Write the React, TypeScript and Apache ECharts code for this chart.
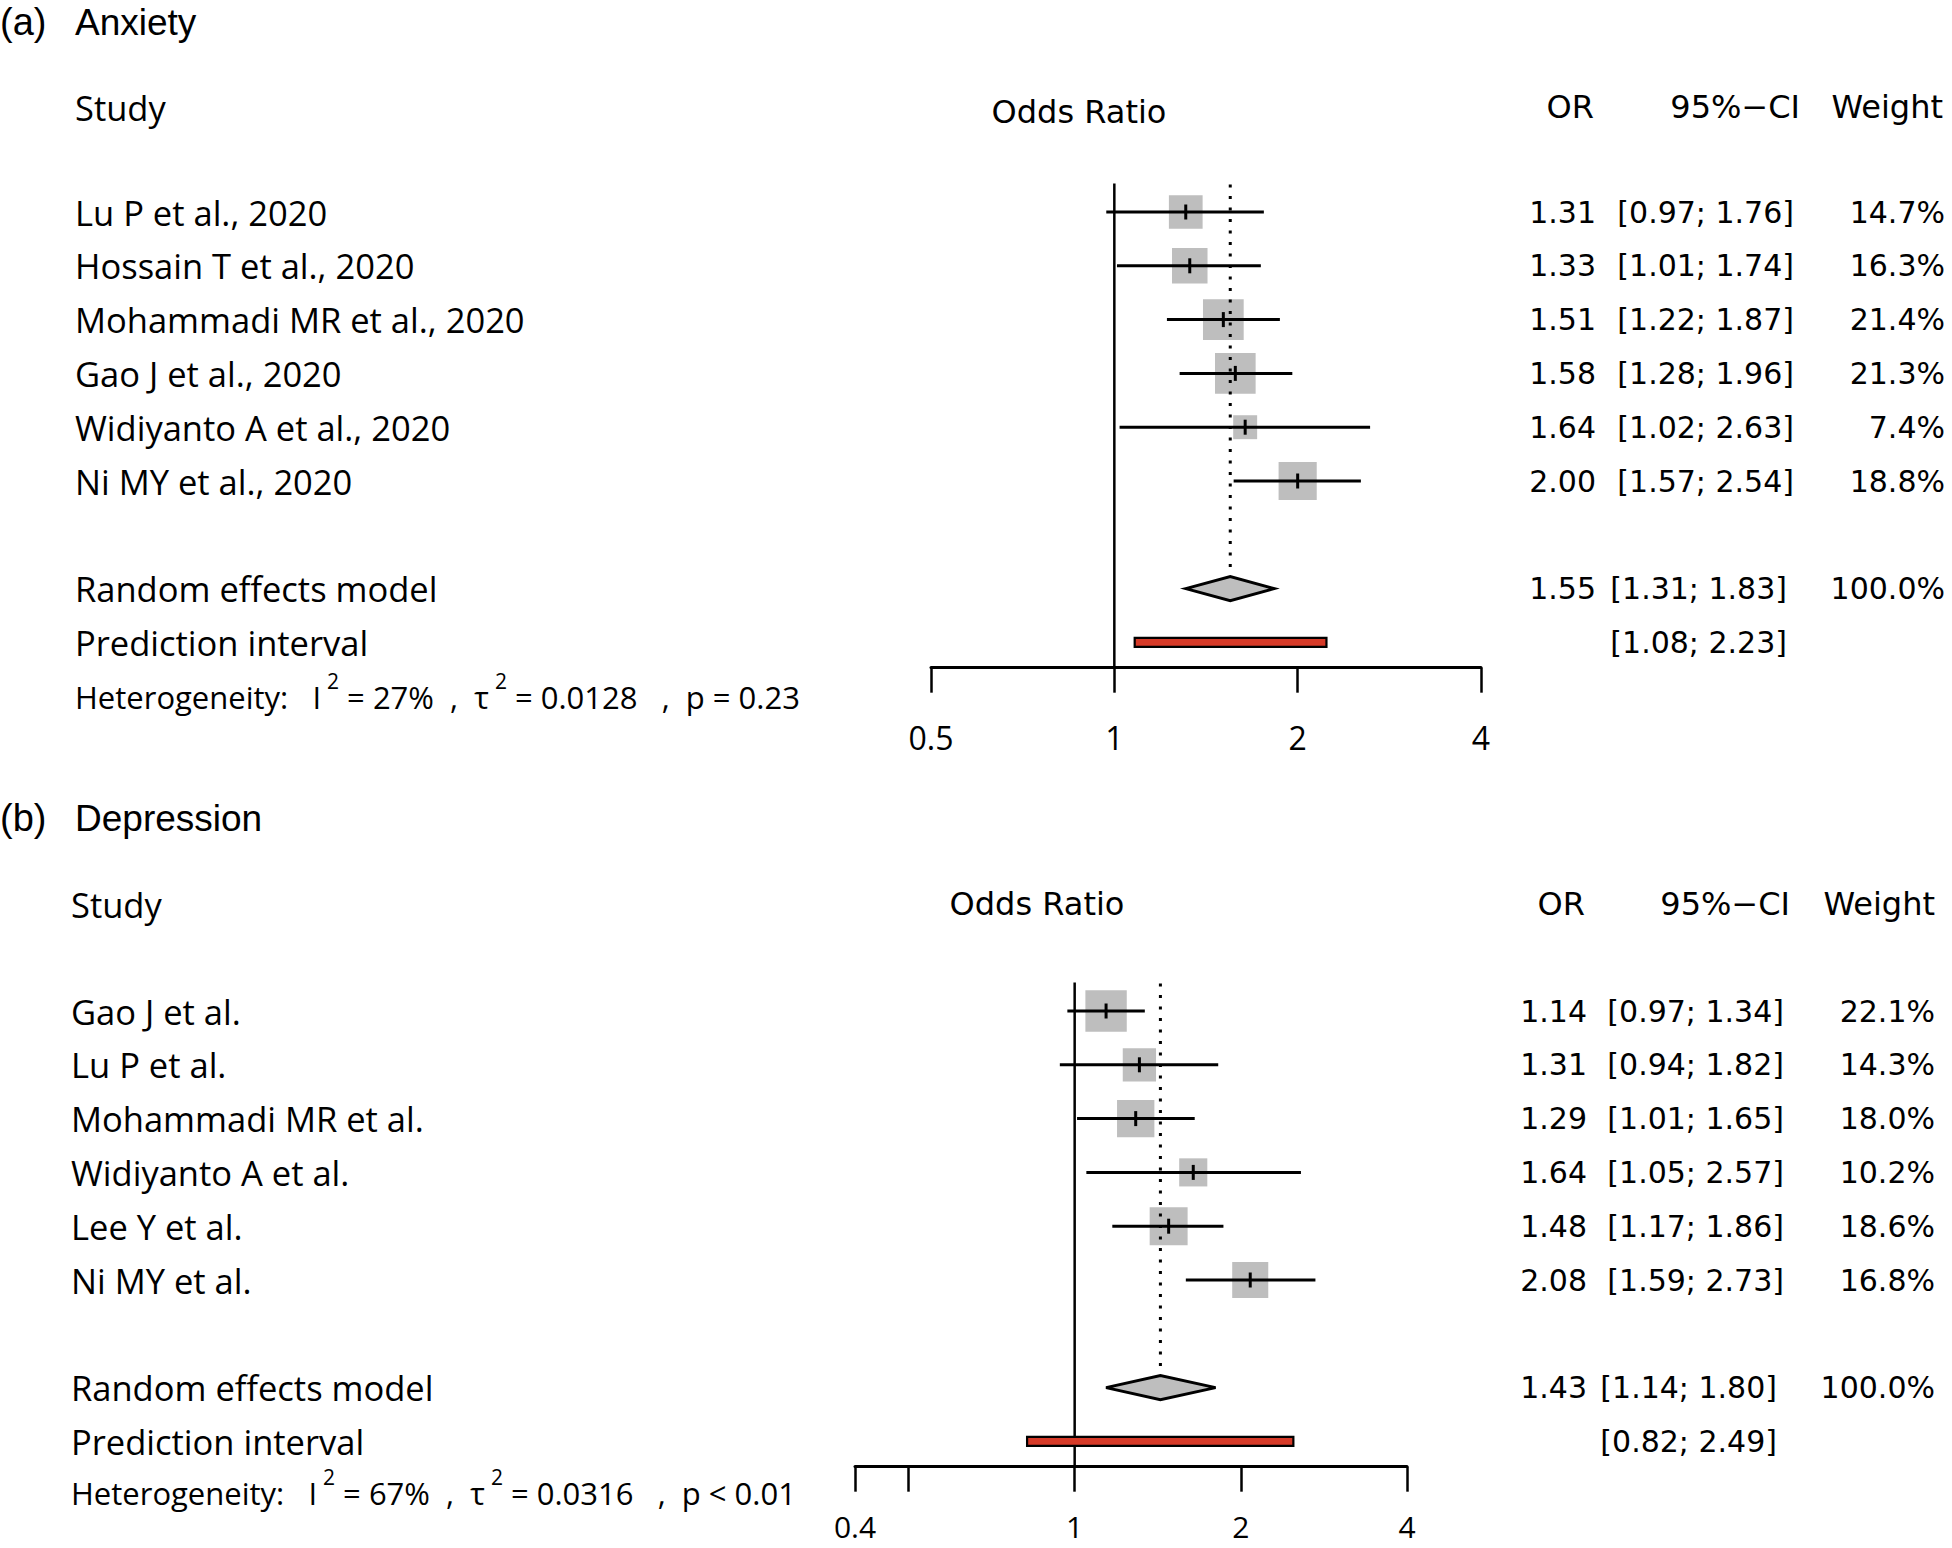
import React, { useEffect, useRef } from 'react';
import * as echarts from 'echarts';

// ---------- Data: (a) Anxiety ----------
const anxStudies = ['Lu P et al., 2020', 'Hossain T et al., 2020', 'Mohammadi MR et al., 2020', 'Gao J et al., 2020', 'Widiyanto A et al., 2020', 'Ni MY et al., 2020'];
const anxOR = [1.31, 1.33, 1.51, 1.58, 1.64, 2.0];
const anxLower = [0.97, 1.01, 1.22, 1.28, 1.02, 1.57];
const anxUpper = [1.76, 1.74, 1.87, 1.96, 2.63, 2.54];
const anxWeight = [14.7, 16.3, 21.4, 21.3, 7.4, 18.8];
const anxPooled = [1.55, 1.31, 1.83];
const anxPredict = [1.08, 2.23];
const anxHet = ['27%', '0.0128', 'p = 0.23'];
const anxAxisRange = [0.5, 4];

// ---------- Data: (b) Depression ----------
const depStudies = ['Gao J et al.', 'Lu P et al.', 'Mohammadi MR et al.', 'Widiyanto A et al.', 'Lee Y et al.', 'Ni MY et al.'];
const depOR = [1.14, 1.31, 1.29, 1.64, 1.48, 2.08];
const depLower = [0.97, 0.94, 1.01, 1.05, 1.17, 1.59];
const depUpper = [1.34, 1.82, 1.65, 2.57, 1.86, 2.73];
const depWeight = [22.1, 14.3, 18.0, 10.2, 18.6, 16.8];
const depPooled = [1.43, 1.14, 1.8];
const depPredict = [0.82, 2.49];
const depHet = ['67%', '0.0316', 'p < 0.01'];
const depAxisRange = [0.4, 4];
const depHiddenTickLabels = [0.5];

const FONT_LABEL = '"Open Sans", sans-serif';
const FONT_NUM = '"DejaVu Sans", sans-serif';
const FONT_TITLE = '"Liberation Sans", Arial, sans-serif';

const fmt2 = (v: number) => v.toFixed(2);
const fmtCI = (l: number, u: number) => `[${fmt2(l)}; ${fmt2(u)}]`;

type Panel = {
  studies: string[]; or: number[]; lower: number[]; upper: number[]; weight: number[];
  pooled: number[]; predict: number[]; het: string[]; range: number[]; hidden: number[];
  L: { left: number; width: number; top: number; labelX: number; orX: number; ciX: number; ciSumX: number; wX: number; hetDy: number; tickMargin: number; tickFont: number };
};

const ROW = 53.8;
const YMIN = 0.5;
const YMAX = 9.47;

const panels: Panel[] = [
  {
    studies: anxStudies, or: anxOR, lower: anxLower, upper: anxUpper, weight: anxWeight,
    pooled: anxPooled, predict: anxPredict, het: anxHet, range: anxAxisRange, hidden: [],
    L: { left: 931, width: 550, top: 185.1, labelX: 75, orX: 1596, ciX: 1794, ciSumX: 1787, wX: 1945, hetDy: -5, tickMargin: 54, tickFont: 32 },
  },
  {
    studies: depStudies, or: depOR, lower: depLower, upper: depUpper, weight: depWeight,
    pooled: depPooled, predict: depPredict, het: depHet, range: depAxisRange, hidden: depHiddenTickLabels,
    L: { left: 855, width: 552, top: 984.1, labelX: 71, orX: 1587, ciX: 1784, ciSumX: 1777, wX: 1935, hetDy: -8, tickMargin: 45, tickFont: 30 },
  },
];

function buildSeries(p: Panel, gi: number): any[] {
  const n = p.studies.length;
  const sumRow = n + 2;
  const predRow = n + 3;
  const hetRow = n + 4;

  const studySeries = {
    type: 'custom', xAxisIndex: gi, yAxisIndex: gi, clip: false, silent: true,
    data: p.or.map((v, i) => [p.lower[i], p.upper[i], v, i + 1]),
    encode: { x: [0, 1, 2], y: 3 },
    renderItem: (params: any, api: any) => {
      const i = params.dataIndex;
      const row = i + 1;
      const lo = api.coord([p.lower[i], row]);
      const hi = api.coord([p.upper[i], row]);
      const c = api.coord([p.or[i], row]);
      const s = 8.8 * Math.sqrt(p.weight[i]);
      return {
        type: 'group',
        children: [
          { type: 'rect', shape: { x: c[0] - s / 2, y: c[1] - s / 2, width: s, height: s }, style: { fill: '#BEBEBE' } },
          { type: 'line', shape: { x1: lo[0], y1: lo[1], x2: hi[0], y2: hi[1] }, style: { stroke: '#000', lineWidth: 3 } },
          { type: 'line', shape: { x1: c[0], y1: c[1] - 7.5, x2: c[0], y2: c[1] + 7.5 }, style: { stroke: '#000', lineWidth: 3 } },
        ],
      };
    },
  };

  const summarySeries = {
    type: 'custom', xAxisIndex: gi, yAxisIndex: gi, clip: false, silent: true,
    data: [[p.pooled[0], sumRow]],
    encode: { x: 0, y: 1 },
    renderItem: (_params: any, api: any) => {
      const top = api.coord([1, YMIN - 0.03]);
      const bottom = api.coord([1, YMAX]);
      const c = api.coord([p.pooled[0], sumRow]);
      const lo = api.coord([p.pooled[1], sumRow]);
      const hi = api.coord([p.pooled[2], sumRow]);
      const plo = api.coord([p.predict[0], predRow]);
      const phi = api.coord([p.predict[1], predRow]);
      const h = 12;
      return {
        type: 'group',
        children: [
          { type: 'line', shape: { x1: top[0], y1: top[1], x2: bottom[0], y2: bottom[1] }, style: { stroke: '#000', lineWidth: 2.5 } },
          { type: 'line', shape: { x1: c[0], y1: top[1] + 1, x2: c[0], y2: c[1] - h - 4 }, style: { stroke: '#000', lineWidth: 3, lineDash: [3, 8.5] } },
          {
            type: 'polygon',
            shape: { points: [[lo[0], c[1]], [c[0], c[1] - h], [hi[0], c[1]], [c[0], c[1] + h]] },
            style: { fill: '#BEBEBE', stroke: '#000', lineWidth: 3, lineJoin: 'miter' },
          },
          {
            type: 'rect', shape: { x: plo[0], y: plo[1] - 4.5, width: phi[0] - plo[0], height: 9 },
            style: { fill: '#D63A28', stroke: '#000', lineWidth: 2.2 },
          },
        ],
      };
    },
  };

  const entries: any[] = [];
  for (let i = 0; i < n; i++) {
    entries.push({ row: i + 1, label: p.studies[i], or: fmt2(p.or[i]), ci: fmtCI(p.lower[i], p.upper[i]), w: p.weight[i].toFixed(1) + '%', ciX: p.L.ciX });
  }
  entries.push({ row: sumRow, label: 'Random effects model', or: fmt2(p.pooled[0]), ci: fmtCI(p.pooled[1], p.pooled[2]), w: '100.0%', ciX: p.L.ciSumX });
  entries.push({ row: predRow, label: 'Prediction interval', or: '', ci: fmtCI(p.predict[0], p.predict[1]), w: '', ciX: p.L.ciSumX });
  entries.push({ row: hetRow, het: true });

  const textSeries = {
    type: 'custom', xAxisIndex: gi, yAxisIndex: gi, clip: false, silent: true,
    data: entries.map((e) => [1, e.row]),
    encode: { x: 0, y: 1 },
    renderItem: (params: any, api: any) => {
      const e = entries[params.dataIndex];
      const y = api.coord([1, e.row])[1];
      if (e.het) {
        return {
          type: 'text', x: p.L.labelX, y: y + p.L.hetDy,
          style: {
            text: `{n|Heterogeneity:   I}{s|2}{n| = ${p.het[0]}  ,  τ}{s|2}{n| = ${p.het[1]}   ,  ${p.het[2]}}`,
            align: 'left', verticalAlign: 'middle', fill: '#000',
            rich: {
              n: { fontSize: 31, fontFamily: FONT_LABEL, lineHeight: 42, verticalAlign: 'bottom', fill: '#000' },
              s: { fontSize: 21, fontFamily: FONT_LABEL, lineHeight: 22, verticalAlign: 'top', fill: '#000', padding: [0, 0, 0, 6] },
            },
          },
        };
      }
      const mk = (text: string, x: number, align: string, font: string, size: number) => ({
        type: 'text', x, y,
        style: { text, align, verticalAlign: 'middle', fill: '#000', fontFamily: font, fontSize: size },
      });
      const children: any[] = [mk(e.label, p.L.labelX, 'left', FONT_LABEL, 34.5)];
      if (e.or) children.push(mk(e.or, p.L.orX, 'right', FONT_NUM, 30));
      if (e.ci) children.push(mk(e.ci, e.ciX, 'right', FONT_NUM, 30));
      if (e.w) children.push(mk(e.w, p.L.wX, 'right', FONT_NUM, 30));
      return { type: 'group', children };
    },
  };

  return [studySeries, summarySeries, textSeries];
}

function buildOption() {
  const grids = panels.map((p) => ({ left: p.L.left, width: p.L.width, top: p.L.top, height: (YMAX - YMIN) * ROW }));
  const xAxes = panels.map((p, gi) => ({
    type: 'log', logBase: 2, gridIndex: gi, min: p.range[0], max: p.range[1], splitNumber: 3,
    axisLine: { show: true, lineStyle: { color: '#000', width: 3 } },
    axisTick: { show: true, inside: false, length: 25, lineStyle: { color: '#000', width: 2.5 } },
    axisLabel: {
      margin: p.L.tickMargin, color: '#000', fontFamily: FONT_LABEL, fontSize: p.L.tickFont, lineHeight: p.L.tickFont,
      formatter: (v: number) => (p.hidden.some((h) => Math.abs(h - v) < 1e-6) ? '' : String(Math.round(v * 100) / 100)),
    },
    splitLine: { show: false },
  }));
  const yAxes = panels.map((_p, gi) => ({
    type: 'value', gridIndex: gi, inverse: true, min: YMIN, max: YMAX, show: false,
  }));
  const series = panels.flatMap((p, gi) => buildSeries(p, gi));

  const t = (text: string, x: number, y: number, align: string, font: string, size: number) => ({
    type: 'text', x, y, silent: true,
    style: { text, align, verticalAlign: 'middle', fill: '#000', fontFamily: font, fontSize: size },
  });

  const graphic = [
    t('(a)', 0, 22, 'left', FONT_TITLE, 38),
    t('Anxiety', 75, 22, 'left', FONT_TITLE, 37),
    t('Study', 75, 107, 'left', FONT_LABEL, 34.5),
    t('Odds Ratio', 1079, 112, 'center', FONT_NUM, 32),
    t('OR', 1594, 107, 'right', FONT_NUM, 32),
    t('95%−CI', 1800, 107, 'right', FONT_NUM, 32),
    t('Weight', 1943, 107, 'right', FONT_NUM, 32),

    t('(b)', 0, 818, 'left', FONT_TITLE, 38),
    t('Depression', 75, 818, 'left', FONT_TITLE, 37),
    t('Study', 71, 904, 'left', FONT_LABEL, 34.5),
    t('Odds Ratio', 1037, 904, 'center', FONT_NUM, 32),
    t('OR', 1585, 904, 'right', FONT_NUM, 32),
    t('95%−CI', 1790, 904, 'right', FONT_NUM, 32),
    t('Weight', 1935, 904, 'right', FONT_NUM, 32),
  ];

  return {
    animation: false,
    backgroundColor: '#ffffff',
    grid: grids,
    xAxis: xAxes,
    yAxis: yAxes,
    series,
    graphic,
  };
}

export default function App() {
  const ref = useRef<HTMLDivElement>(null);
  useEffect(() => {
    if (!ref.current) return;
    const chart = echarts.init(ref.current, undefined, { renderer: 'svg' });
    chart.setOption(buildOption() as any);
    return () => chart.dispose();
  }, []);
  return <div ref={ref} style={{ position: 'absolute', left: 0, top: 0, width: 1952, height: 1548, background: '#fff' }} />;
}
